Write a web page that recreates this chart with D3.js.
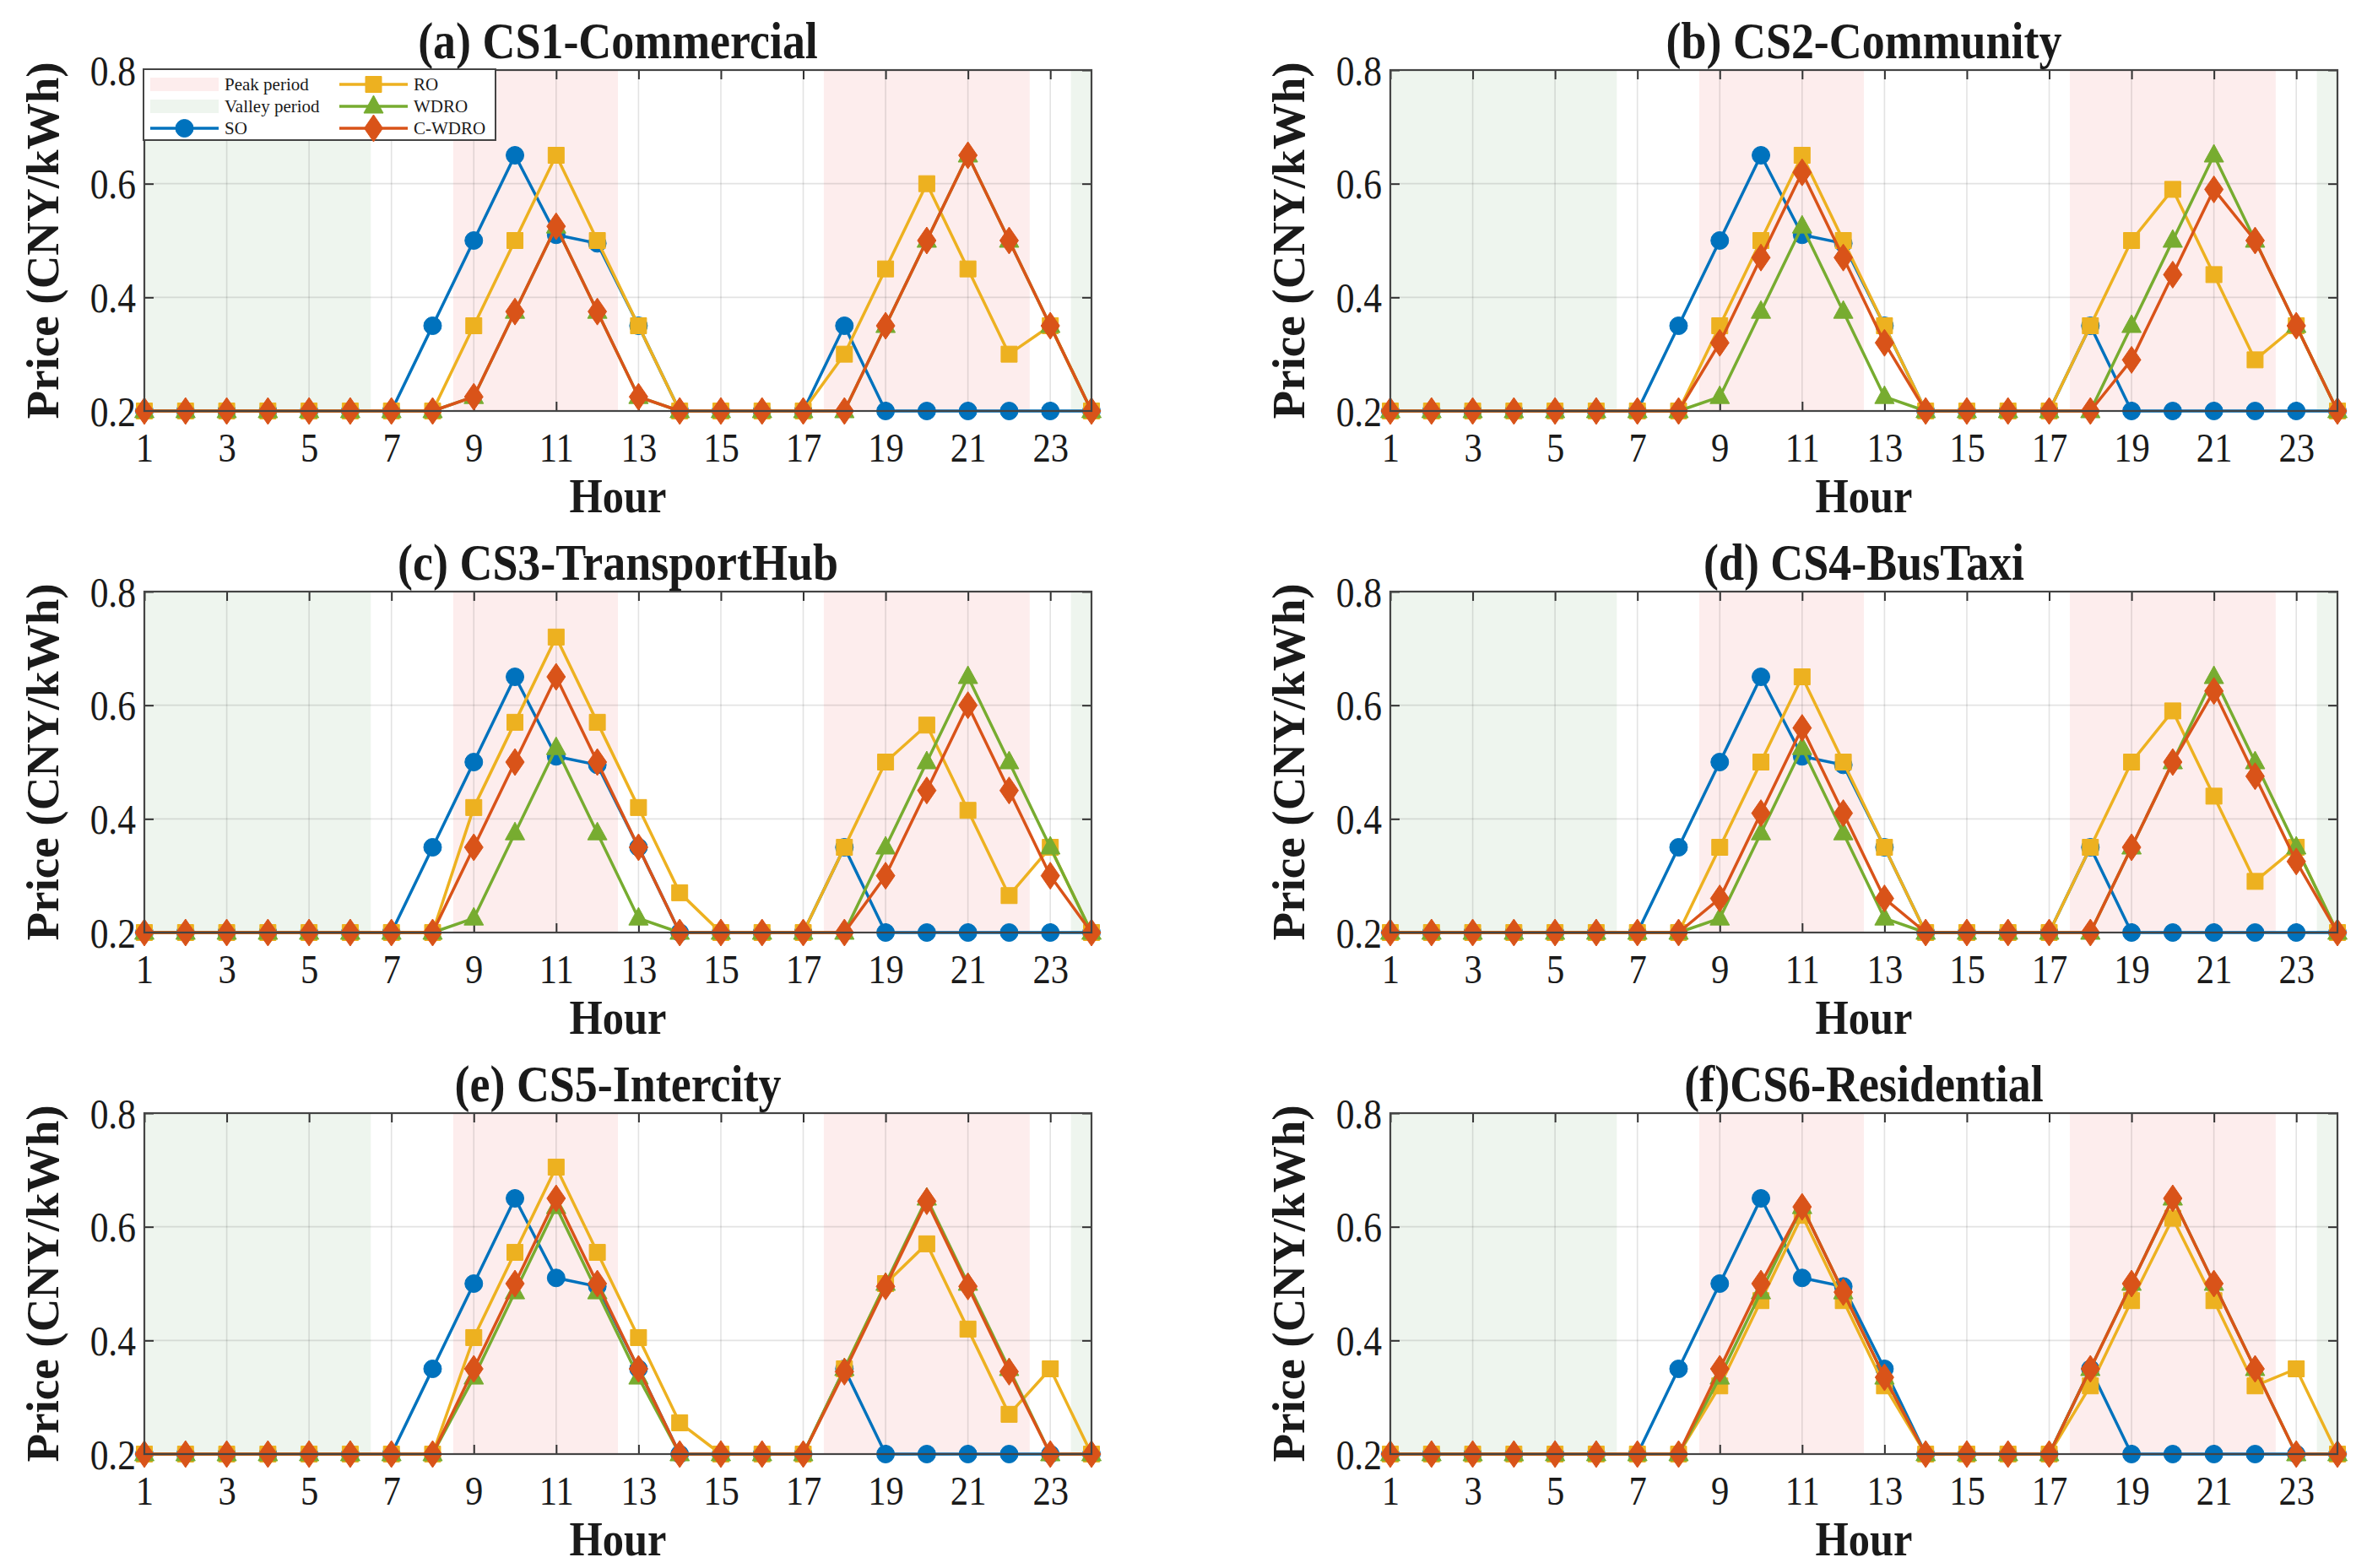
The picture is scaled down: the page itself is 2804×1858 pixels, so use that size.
<!DOCTYPE html>
<html>
<head>
<meta charset="utf-8">
<script src="https://cdn.jsdelivr.net/npm/d3@7"></script>
<style>
  html, body { margin: 0; padding: 0; background: #fff; }
  svg { display: block; }
  text { font-family: "Liberation Serif", "Times New Roman", serif; fill: #1a1a1a; }
</style>
</head>
<body>
<svg id="chart" width="2804" height="1858"></svg>
<script>
// ---------------- DATA ----------------
const hours = [1,2,3,4,5,6,7,8,9,10,11,12,13,14,15,16,17,18,19,20,21,22,23,24];
const xTicks = [1,3,5,7,9,11,13,15,17,19,21,23];
const yTicks = [0.2,0.4,0.6,0.8];
const yTickLabels = ["0.2","0.4","0.6","0.8"];
const seriesNames = ["SO","RO","WDRO","C-WDRO"];
const valleyBands = [[1,6.5],[23.5,24]];
const peakBands = [[8.5,12.5],[17.5,22.5]];
const panelTitles = ["(a) CS1-Commercial","(b) CS2-Community","(c) CS3-TransportHub","(d) CS4-BusTaxi","(e) CS5-Intercity","(f)CS6-Residential"];

const a_SO    = [0.2,0.2,0.2,0.2,0.2,0.2,0.2,0.35,0.5,0.65,0.51,0.495,0.35,0.2,0.2,0.2,0.2,0.35,0.2,0.2,0.2,0.2,0.2,0.2];
const a_RO    = [0.2,0.2,0.2,0.2,0.2,0.2,0.2,0.2,0.35,0.5,0.65,0.5,0.35,0.2,0.2,0.2,0.2,0.3,0.45,0.6,0.45,0.3,0.35,0.2];
const a_WDRO  = [0.2,0.2,0.2,0.2,0.2,0.2,0.2,0.2,0.225,0.375,0.525,0.375,0.225,0.2,0.2,0.2,0.2,0.2,0.35,0.5,0.65,0.5,0.35,0.2];
const a_CWDRO = [0.2,0.2,0.2,0.2,0.2,0.2,0.2,0.2,0.225,0.375,0.525,0.375,0.225,0.2,0.2,0.2,0.2,0.2,0.35,0.5,0.65,0.5,0.35,0.2];

const b_SO    = [0.2,0.2,0.2,0.2,0.2,0.2,0.2,0.35,0.5,0.65,0.51,0.495,0.35,0.2,0.2,0.2,0.2,0.35,0.2,0.2,0.2,0.2,0.2,0.2];
const b_RO    = [0.2,0.2,0.2,0.2,0.2,0.2,0.2,0.2,0.35,0.5,0.65,0.5,0.35,0.2,0.2,0.2,0.2,0.35,0.5,0.59,0.44,0.29,0.35,0.2];
const b_WDRO  = [0.2,0.2,0.2,0.2,0.2,0.2,0.2,0.2,0.225,0.375,0.525,0.375,0.225,0.2,0.2,0.2,0.2,0.2,0.35,0.5,0.65,0.5,0.35,0.2];
const b_CWDRO = [0.2,0.2,0.2,0.2,0.2,0.2,0.2,0.2,0.32,0.47,0.62,0.47,0.32,0.2,0.2,0.2,0.2,0.2,0.29,0.44,0.59,0.5,0.35,0.2];

const c_SO    = [0.2,0.2,0.2,0.2,0.2,0.2,0.2,0.35,0.5,0.65,0.51,0.495,0.35,0.2,0.2,0.2,0.2,0.35,0.2,0.2,0.2,0.2,0.2,0.2];
const c_RO    = [0.2,0.2,0.2,0.2,0.2,0.2,0.2,0.2,0.42,0.57,0.72,0.57,0.42,0.27,0.2,0.2,0.2,0.35,0.5,0.565,0.415,0.265,0.35,0.2];
const c_WDRO  = [0.2,0.2,0.2,0.2,0.2,0.2,0.2,0.2,0.225,0.375,0.525,0.375,0.225,0.2,0.2,0.2,0.2,0.2,0.35,0.5,0.65,0.5,0.35,0.2];
const c_CWDRO = [0.2,0.2,0.2,0.2,0.2,0.2,0.2,0.2,0.35,0.5,0.65,0.5,0.35,0.2,0.2,0.2,0.2,0.2,0.3,0.45,0.6,0.45,0.3,0.2];

const d_SO    = [0.2,0.2,0.2,0.2,0.2,0.2,0.2,0.35,0.5,0.65,0.51,0.495,0.35,0.2,0.2,0.2,0.2,0.35,0.2,0.2,0.2,0.2,0.2,0.2];
const d_RO    = [0.2,0.2,0.2,0.2,0.2,0.2,0.2,0.2,0.35,0.5,0.65,0.5,0.35,0.2,0.2,0.2,0.2,0.35,0.5,0.59,0.44,0.29,0.35,0.2];
const d_WDRO  = [0.2,0.2,0.2,0.2,0.2,0.2,0.2,0.2,0.225,0.375,0.525,0.375,0.225,0.2,0.2,0.2,0.2,0.2,0.35,0.5,0.65,0.5,0.35,0.2];
const d_CWDRO = [0.2,0.2,0.2,0.2,0.2,0.2,0.2,0.2,0.26,0.41,0.56,0.41,0.26,0.2,0.2,0.2,0.2,0.2,0.35,0.5,0.625,0.475,0.325,0.2];

const e_SO    = [0.2,0.2,0.2,0.2,0.2,0.2,0.2,0.35,0.5,0.65,0.51,0.495,0.35,0.2,0.2,0.2,0.2,0.35,0.2,0.2,0.2,0.2,0.2,0.2];
const e_RO    = [0.2,0.2,0.2,0.2,0.2,0.2,0.2,0.2,0.405,0.555,0.705,0.555,0.405,0.255,0.2,0.2,0.2,0.35,0.5,0.57,0.42,0.27,0.35,0.2];
const e_WDRO  = [0.2,0.2,0.2,0.2,0.2,0.2,0.2,0.2,0.335,0.485,0.635,0.485,0.335,0.2,0.2,0.2,0.2,0.35,0.5,0.65,0.5,0.35,0.2,0.2];
const e_CWDRO = [0.2,0.2,0.2,0.2,0.2,0.2,0.2,0.2,0.35,0.5,0.65,0.5,0.35,0.2,0.2,0.2,0.2,0.345,0.495,0.645,0.495,0.345,0.2,0.2];

const f_SO    = [0.2,0.2,0.2,0.2,0.2,0.2,0.2,0.35,0.5,0.65,0.51,0.495,0.35,0.2,0.2,0.2,0.2,0.35,0.2,0.2,0.2,0.2,0.2,0.2];
const f_RO    = [0.2,0.2,0.2,0.2,0.2,0.2,0.2,0.2,0.32,0.47,0.62,0.47,0.32,0.2,0.2,0.2,0.2,0.32,0.47,0.615,0.47,0.32,0.35,0.2];
const f_WDRO  = [0.2,0.2,0.2,0.2,0.2,0.2,0.2,0.2,0.335,0.485,0.635,0.485,0.335,0.2,0.2,0.2,0.2,0.35,0.5,0.65,0.5,0.35,0.2,0.2];
const f_CWDRO = [0.2,0.2,0.2,0.2,0.2,0.2,0.2,0.2,0.35,0.5,0.635,0.485,0.335,0.2,0.2,0.2,0.2,0.35,0.5,0.65,0.5,0.35,0.2,0.2];

const panelSeries = [
  [a_SO,a_RO,a_WDRO,a_CWDRO],
  [b_SO,b_RO,b_WDRO,b_CWDRO],
  [c_SO,c_RO,c_WDRO,c_CWDRO],
  [d_SO,d_RO,d_WDRO,d_CWDRO],
  [e_SO,e_RO,e_WDRO,e_CWDRO],
  [f_SO,f_RO,f_WDRO,f_CWDRO]
];

// ---------------- STYLE / LAYOUT ----------------
const colors = ["#0072BD","#EDB120","#77AC30","#D95319"];
const markers = ["circle","square","triangle","diamond"];
const peakColor = "#FDEDED";
const valleyColor = "#EEF5EE";
const colX = [171, 1647];
const rowY = [83, 701, 1319];
const PW = 1122, PH = 404;
const SX = 0.87; // horizontal text compression of the reference

function markerPath(type) {
  if (type === "circle") return d3.symbol().type(d3.symbolCircle).size(Math.PI * 10.5 * 10.5)();
  if (type === "square") return "M-9.5,-9.5L9.5,-9.5L9.5,9.5L-9.5,9.5Z";
  if (type === "triangle") return "M0,-13L11.5,8L-11.5,8Z";
  return "M0,-16L11,0L0,16L-11,0Z";
}

const svg = d3.select("#chart");

function addText(g, x, y, str, opts) {
  const t = g.append("text")
    .attr("transform", `translate(${x},${y})` + (opts.rotate ? ` rotate(${opts.rotate})` : "") + ` scale(${opts.sx || 1},${opts.sy || 1})`)
    .attr("text-anchor", opts.anchor || "middle")
    .attr("font-size", opts.size)
    .attr("font-weight", opts.bold ? "bold" : "normal")
    .text(str);
  if (opts.dy) t.attr("dy", opts.dy);
  return t;
}

panelTitles.forEach((title, pi) => {
  const col = pi % 2, row = Math.floor(pi / 2);
  const g = svg.append("g").attr("transform", `translate(${colX[col]},${rowY[row]})`);
  const x = d3.scaleLinear().domain([1, 24]).range([0, PW]);
  const y = d3.scaleLinear().domain([0.2, 0.8]).range([PH, 0]);

  // shading
  g.selectAll("rect.valley").data(valleyBands).enter().append("rect")
    .attr("x", d => x(d[0])).attr("width", d => x(d[1]) - x(d[0]))
    .attr("y", 0).attr("height", PH).attr("fill", valleyColor);
  g.selectAll("rect.peak").data(peakBands).enter().append("rect")
    .attr("x", d => x(d[0])).attr("width", d => x(d[1]) - x(d[0]))
    .attr("y", 0).attr("height", PH).attr("fill", peakColor);

  // grid
  g.selectAll("line.vg").data(xTicks).enter().append("line")
    .attr("x1", d => x(d)).attr("x2", d => x(d)).attr("y1", 0).attr("y2", PH)
    .attr("stroke", "#262626").attr("stroke-opacity", 0.13).attr("stroke-width", 1.6);
  g.selectAll("line.hg").data(yTicks).enter().append("line")
    .attr("y1", d => y(d)).attr("y2", d => y(d)).attr("x1", 0).attr("x2", PW)
    .attr("stroke", "#262626").attr("stroke-opacity", 0.13).attr("stroke-width", 1.6);

  // axes (inward ticks, MATLAB box)
  const axB = g.append("g").attr("transform", `translate(0,${PH})`)
    .call(d3.axisBottom(x).tickValues(xTicks).tickSizeInner(-11).tickSizeOuter(0).tickPadding(0).tickFormat(d3.format("d")));
  const axT = g.append("g")
    .call(d3.axisTop(x).tickValues(xTicks).tickSizeInner(-11).tickSizeOuter(0).tickFormat(""));
  const axL = g.append("g")
    .call(d3.axisLeft(y).tickValues(yTicks).tickSizeInner(-11).tickSizeOuter(0).tickFormat((d, i) => yTickLabels[i]));
  const axR = g.append("g").attr("transform", `translate(${PW},0)`)
    .call(d3.axisRight(y).tickValues(yTicks).tickSizeInner(-11).tickSizeOuter(0).tickFormat(""));
  [axB, axT, axL, axR].forEach(a => {
    a.select(".domain").remove();
    a.selectAll(".tick line").attr("stroke", "#333").attr("stroke-width", 2);
  });
  axB.selectAll(".tick text")
    .attr("x", null).attr("y", null).attr("dy", null)
    .attr("transform", "translate(0,60) scale(" + SX + ",1)")
    .attr("font-size", 49).attr("fill", "#1a1a1a").attr("font-family", "Liberation Serif, Times New Roman, serif");
  axL.selectAll(".tick text")
    .attr("x", null).attr("dy", "0.34em")
    .attr("transform", "translate(-10,0) scale(" + SX + ",1)")
    .attr("font-size", 50).attr("fill", "#1a1a1a").attr("font-family", "Liberation Serif, Times New Roman, serif");

  // series
  const line = d3.line().x((d, i) => x(hours[i])).y(d => y(d));
  panelSeries[pi].forEach((vals, si) => {
    g.append("path").datum(vals).attr("d", line)
      .attr("fill", "none").attr("stroke", colors[si]).attr("stroke-width", 3.5)
      .attr("stroke-linejoin", "round");
    g.selectAll(null).data(vals).enter().append("path")
      .attr("transform", (d, i) => `translate(${x(hours[i])},${y(d)})`)
      .attr("d", markerPath(markers[si]))
      .attr("fill", colors[si]).attr("stroke", colors[si]).attr("stroke-width", 1);
  });

  // box
  g.append("rect").attr("x", 0).attr("y", 0).attr("width", PW).attr("height", PH)
    .attr("fill", "none").attr("stroke", "#444").attr("stroke-width", 2.2);

  // title and labels
  addText(g, PW / 2, -14, title, { size: 62, bold: true, sx: SX });
  addText(g, PW / 2, PH + 120, "Hour", { size: 58, bold: true, sx: SX });
  addText(g, -102, PH / 2, "Price (CNY/kWh)", { size: 55, bold: true, rotate: -90 });

  // legend in panel (a)
  if (pi === 0) {
    const lg = g.append("g");
    lg.append("rect").attr("x", -1).attr("y", -1).attr("width", 417).attr("height", 84)
      .attr("fill", "#fff").attr("stroke", "#444").attr("stroke-width", 2);
    const rowsY = [17, 43, 69];
    lg.append("rect").attr("x", 7).attr("y", rowsY[0] - 8).attr("width", 81).attr("height", 16).attr("fill", peakColor);
    lg.append("rect").attr("x", 7).attr("y", rowsY[1] - 8).attr("width", 81).attr("height", 16).attr("fill", valleyColor);
    const entries = [
      { col: 0, row: 2, si: 0 },
      { col: 1, row: 0, si: 1 },
      { col: 1, row: 1, si: 2 },
      { col: 1, row: 2, si: 3 }
    ];
    const colStart = [7, 231];
    entries.forEach(e => {
      const x0 = colStart[e.col], yy = rowsY[e.row];
      lg.append("line").attr("x1", x0).attr("x2", x0 + 81).attr("y1", yy).attr("y2", yy)
        .attr("stroke", colors[e.si]).attr("stroke-width", 3.5);
      lg.append("path").attr("transform", `translate(${x0 + 40.5},${yy})`)
        .attr("d", markerPath(markers[e.si])).attr("fill", colors[e.si]).attr("stroke", colors[e.si]);
      addText(lg, x0 + 88, yy, seriesNames[e.si], { size: 21, anchor: "start", dy: "0.34em" });
    });
    addText(lg, 95, rowsY[0], "Peak period", { size: 21, anchor: "start", dy: "0.34em" });
    addText(lg, 95, rowsY[1], "Valley period", { size: 21, anchor: "start", dy: "0.34em" });
  }
});
</script>
</body>
</html>
